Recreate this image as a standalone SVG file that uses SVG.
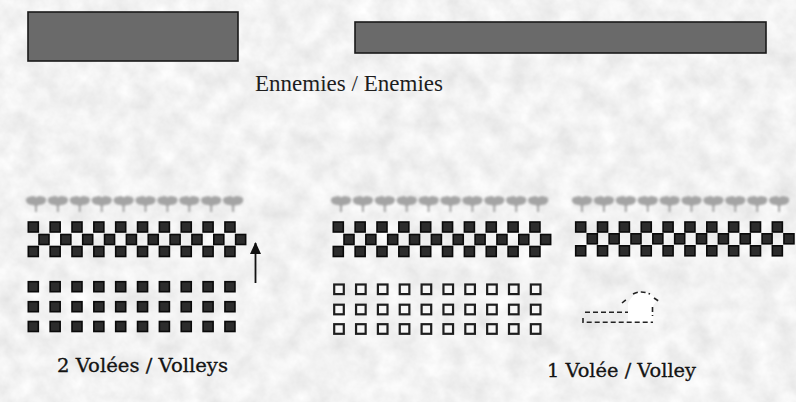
<svg xmlns="http://www.w3.org/2000/svg" xmlns:xlink="http://www.w3.org/1999/xlink" width="796" height="402" viewBox="0 0 796 402">
  <style>
    .bar { fill: #6a6a6a; stroke: #1a1a1a; stroke-width: 1.6; }
    .blk { fill: #2c2c2c; stroke: #0a0a0a; stroke-width: 1.6; }
    .hol { fill: #f6f6f6; stroke: #1e1e1e; stroke-width: 2.2; }
    .alien { fill: #a4a4a4; }
    .ttl { font-family: "Liberation Serif", "Times New Roman", serif; font-size: 24px; fill: #1e1e1e; }
    .lbl { font-family: "DejaVu Serif", "Liberation Serif", serif; font-size: 18.5px; fill: #141414; stroke: #141414; stroke-width: 0.3; }
    .dash { fill: none; stroke: #222; stroke-width: 1.6; stroke-dasharray: 5 3; }
    .conn { stroke: #111; stroke-width: 1.8; fill: none; }
  </style>
  <defs>
    <filter id="tex" x="0" y="0" width="100%" height="100%">
      <feTurbulence type="fractalNoise" baseFrequency="0.045" numOctaves="4" seed="7"/>
      <feColorMatrix type="matrix" values="0.28 0 0 0 0.75  0.28 0 0 0 0.75  0.28 0 0 0 0.75  0 0 0 0 1"/>
    </filter>
    <filter id="soft" x="-20%" y="-30%" width="140%" height="160%">
      <feGaussianBlur stdDeviation="1.1"/>
    </filter>
    <marker id="ah" markerWidth="12" markerHeight="11" refX="11" refY="5.5" orient="auto" markerUnits="userSpaceOnUse" viewBox="0 0 12 11">
      <path d="M0,0 L12,5.5 L0,11 Z" fill="#111"/>
    </marker>
    <rect id="b" x="-5" y="-5" width="10" height="10" class="blk"/>
    <rect id="h" x="-4.8" y="-4.8" width="9.6" height="9.6" class="hol"/>
    <path id="al" class="alien" d="M-10,-2 Q-11,-6 -5,-6.5 Q-2,-8 0,-5.5 Q3,-8 6,-6.5 Q11,-6 10,-2 Q9,2 3,2 L1,3 L1,9 L-1,9 L-1,3 L-3,2 Q-9,2 -10,-2 Z"/>
    <g id="brow">
      <use xlink:href="#b" x="0"/><use xlink:href="#b" x="21.85"/><use xlink:href="#b" x="43.7"/><use xlink:href="#b" x="65.55"/><use xlink:href="#b" x="87.4"/>
      <use xlink:href="#b" x="109.25"/><use xlink:href="#b" x="131.1"/><use xlink:href="#b" x="152.95"/><use xlink:href="#b" x="174.8"/><use xlink:href="#b" x="196.65"/>
    </g>
    <g id="hrow">
      <use xlink:href="#h" x="0"/><use xlink:href="#h" x="21.85"/><use xlink:href="#h" x="43.7"/><use xlink:href="#h" x="65.55"/><use xlink:href="#h" x="87.4"/>
      <use xlink:href="#h" x="109.25"/><use xlink:href="#h" x="131.1"/><use xlink:href="#h" x="152.95"/><use xlink:href="#h" x="174.8"/><use xlink:href="#h" x="196.65"/>
    </g>
    <g id="arow" filter="url(#soft)">
      <use xlink:href="#al" x="0"/><use xlink:href="#al" x="21.9"/><use xlink:href="#al" x="43.8"/><use xlink:href="#al" x="65.7"/><use xlink:href="#al" x="87.6"/>
      <use xlink:href="#al" x="109.5"/><use xlink:href="#al" x="131.4"/><use xlink:href="#al" x="153.3"/><use xlink:href="#al" x="175.2"/><use xlink:href="#al" x="197.1"/>
    </g>
  </defs>

  <rect id="background" x="0" y="0" width="796" height="402" fill="#e4e4e4" filter="url(#tex)"/>

  <g id="enemy-bar-left"><rect class="bar" x="28" y="12" width="210" height="49"/></g>
  <g id="enemy-bar-right"><rect class="bar" x="355" y="22" width="411" height="31"/></g>
  <g id="title"><text class="ttl" x="255" y="90.5" textLength="188" lengthAdjust="spacingAndGlyphs">Ennemies / Enemies</text></g>

  <g id="group-left">
    <use xlink:href="#arow" x="36" y="203"/>
    <use xlink:href="#brow" x="33.3" y="227"/>
    <use xlink:href="#brow" x="44" y="239.5"/>
    <use xlink:href="#brow" x="33.3" y="251.5"/>
    <use xlink:href="#brow" x="33.3" y="286.7"/>
    <use xlink:href="#brow" x="33.3" y="306.7"/>
    <use xlink:href="#brow" x="33.3" y="326.5"/>
    <text class="lbl" x="57" y="372" textLength="171" lengthAdjust="spacingAndGlyphs">2 Volées / Volleys</text>
  </g>

  <g id="group-middle">
    <use xlink:href="#arow" x="341" y="203"/>
    <use xlink:href="#brow" x="338.3" y="227"/>
    <use xlink:href="#brow" x="349" y="239.5"/>
    <use xlink:href="#brow" x="338.3" y="251.5"/>
    <use xlink:href="#hrow" x="339" y="289.3"/>
    <use xlink:href="#hrow" x="339" y="309.5"/>
    <use xlink:href="#hrow" x="339" y="329"/>
  </g>

  <g id="group-right">
    <use xlink:href="#arow" x="582" y="203"/>
    <use xlink:href="#brow" x="580.7" y="227"/>
    <use xlink:href="#brow" x="592.3" y="238.8"/>
    <use xlink:href="#brow" x="580.7" y="250.8"/>
    <g id="player-ship">
      <path d="M628,312 L628,303 Q634,292 642,291 Q651,292 657,300 L653,306 L653,322 L628,322 Z" fill="#ffffff"/>
      <path class="dash" d="M585,312.3 L628,312.3 M622,303 L628,298 M633,294 Q641,290 650,294 M654,298 L660,302 M652.5,307 L652.5,316 M583,318 L583,322.3 L653,322.3"/>
    </g>
    <text class="lbl" x="547" y="377" textLength="149" lengthAdjust="spacingAndGlyphs">1 Volée / Volley</text>
  </g>

  <g id="connectors">
    <line class="conn" x1="255.5" y1="283" x2="255.5" y2="243" marker-end="url(#ah)"/>
  </g>
</svg>
